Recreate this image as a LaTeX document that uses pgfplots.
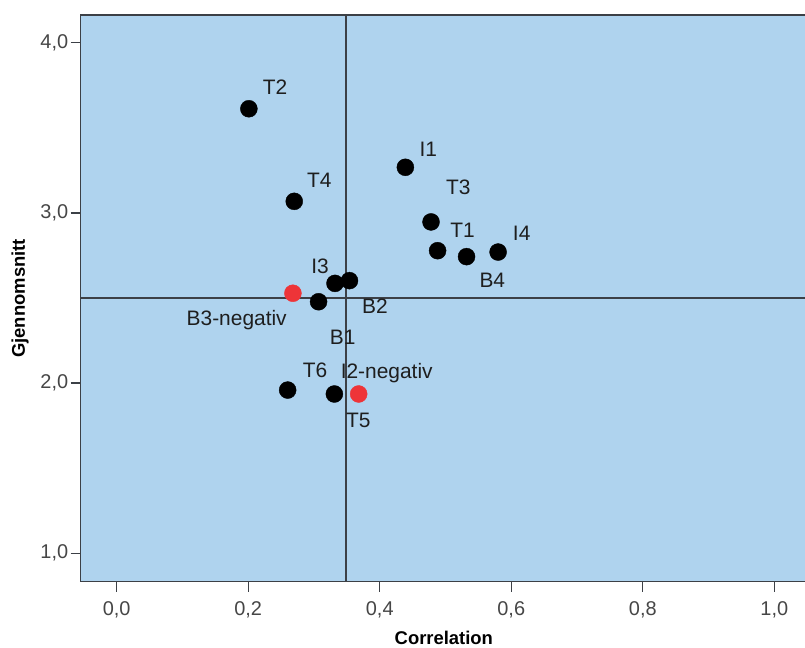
\documentclass[border=0pt]{standalone}
\usepackage{pgfplots}
\pgfplotsset{compat=1.18}
\usepackage{fontspec}
\setmainfont{Liberation Sans}
\definecolor{bgblue}{RGB}{175,211,238}
\definecolor{ptred}{RGB}{238,52,56}
\definecolor{linegray}{RGB}{60,64,70}
\definecolor{tickgray}{RGB}{70,70,70}
\definecolor{txt}{RGB}{30,30,30}
\begin{document}
\begin{tikzpicture}
\path[use as bounding box] (0,0) rectangle (805bp,648bp);
\begin{axis}[
  at={(80.7bp,66.3bp)}, anchor=south west,
  scale only axis, width=726.3bp, height=566.7bp,
  xmin=-0.0547, xmax=1.0497, ymin=0.833, ymax=4.163,
  xtick={0,0.2,0.4,0.6,0.8,1.0}, ytick={1,2,3,4},
  axis background/.style={fill=bgblue},
  axis line style={linegray, line width=1.3bp},
  tick align=outside, major tick length=10bp,
  tick style={linegray, line width=1.3bp},
  xtick pos=bottom, ytick pos=left,
  /pgf/number format/.cd, fixed, fixed zerofill, precision=1, use comma, assume math mode=true,
  /pgfplots/.cd,
  ticklabel style={font=\fontsize{20}{24}\selectfont, text=tickgray},
  xticklabel style={yshift=-6bp},
  yticklabel style={xshift=1bp},
  xlabel={\textbf{Correlation}},
  ylabel={\textbf{Gjennomsnitt}},
  label style={font=\fontsize{18.5}{22}\selectfont, text=black},
  xlabel style={at={(axis description cs:0.5,0)}, anchor=south, yshift=-66bp},
  ylabel style={at={(axis description cs:0,0.5)}, anchor=center, rotate=0, yshift=60.7bp},
  clip=false,
]
% reference lines
\addplot[linegray, line width=1.6bp] coordinates {(0.349,0.833) (0.349,4.163)};
\addplot[linegray, line width=1.6bp] coordinates {(-0.0547,2.50) (1.0497,2.50)};
% black points
\addplot[only marks, mark=*, mark size=8.5bp, mark options={fill=black, draw=black}] coordinates {
 (0.201,3.612) (0.439,3.268) (0.270,3.068) (0.478,2.947) (0.488,2.778)
 (0.532,2.743) (0.580,2.770) (0.332,2.586) (0.354,2.602) (0.307,2.478)
 (0.260,1.959) (0.331,1.936)
};
% red points
\addplot[only marks, mark=*, mark size=8.5bp, mark options={fill=ptred, draw=ptred}] coordinates {
 (0.268,2.528) (0.368,1.936)
};
\begin{scope}[every node/.style={font=\fontsize{21}{25}\selectfont, text=txt, inner sep=0pt}]
\node at (axis cs:0.2408,3.738) {T2};
\node at (axis cs:0.4738,3.374) {I1};
\node at (axis cs:0.3081,3.189) {T4};
\node at (axis cs:0.5195,3.150) {T3};
\node at (axis cs:0.5260,2.900) {T1};
\node at (axis cs:0.6159,2.880) {I4};
\node at (axis cs:0.5712,2.602) {B4};
\node at (axis cs:0.3092,2.684) {I3};
\node at (axis cs:0.3928,2.449) {B2};
\node at (axis cs:0.1825,2.371) {B3-negativ};
\node at (axis cs:0.3437,2.269) {B1};
\node at (axis cs:0.3016,2.077) {T6};
\node at (axis cs:0.4106,2.061) {I2-negativ};
\node at (axis cs:0.3674,1.783) {T5};
\end{scope}
\end{axis}
\end{tikzpicture}
\end{document}
